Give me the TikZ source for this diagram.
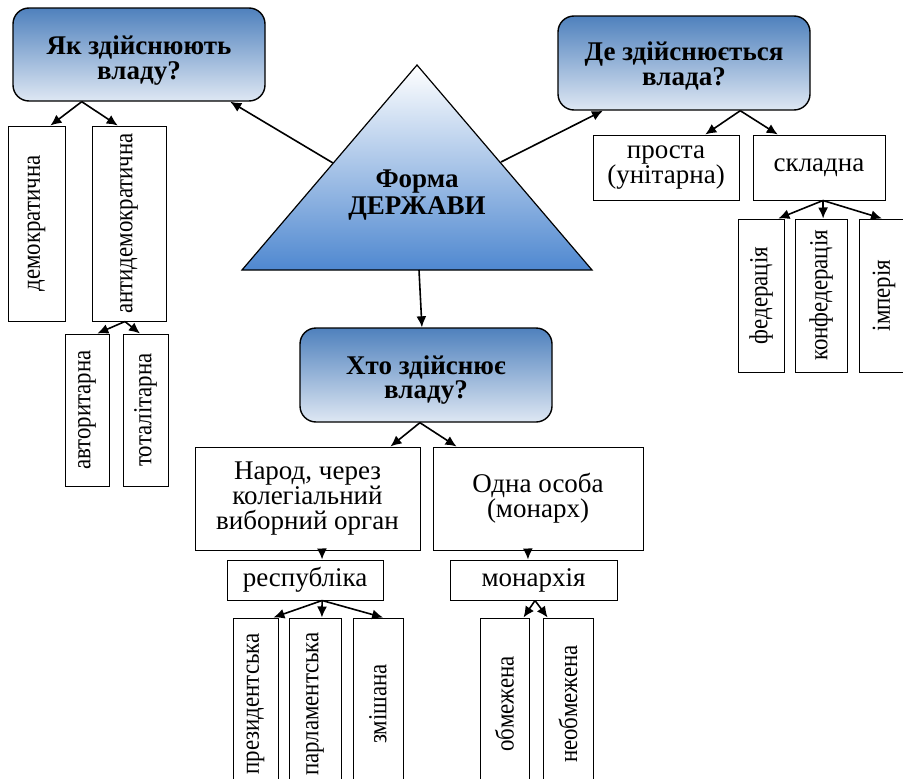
\documentclass[tikz,border=0pt]{standalone}
\usepackage{fontspec}
\setmainfont{Liberation Serif}
\newfontfamily\narrowserif[FakeStretch=0.88]{Liberation Serif}
\usetikzlibrary{arrows.meta,calc}
\definecolor{bluetop}{RGB}{79,129,189}
\definecolor{bluebot}{RGB}{222,231,243}
\definecolor{tribot}{RGB}{79,136,208}
\begin{document}
\begin{tikzpicture}[x=1pt,y=-1pt,
  qbox/.style={draw, line width=1.4pt, rounded corners=16pt, top color=bluetop, bottom color=bluebot,
    font=\fontsize{27}{25}\selectfont\bfseries, align=center, inner sep=0pt},
  wbox/.style={draw, line width=1pt, fill=white, font=\fontsize{27}{25}\selectfont, align=center, inner sep=0pt},
  vbox/.style={draw, line width=1pt, fill=white, rotate=90, font=\narrowserif\fontsize{26}{26}\selectfont, inner sep=0pt},
  arr/.style={-{Latex[length=11pt,width=10pt]}, line width=1.6pt}]
\useasboundingbox (0,0) rectangle (903,779);
\clip (0,0) rectangle (903,779);
\fill[white] (0,0) rectangle (903,779);

% top-left question
\node[qbox, minimum width=252pt, minimum height=93pt] (yak) at (139,54.5) {\raisebox{-6pt}[\height][\depth]{\shortstack{Як здійснюють\\[-1pt]владу?}}};
% top-right question
\node[qbox, minimum width=252pt, minimum height=94pt] (de) at (684,63) {\raisebox{-3pt}[\height][\depth]{\shortstack{Де здійснюється\\[-1pt]влада?}}};
% centre question
\node[qbox, minimum width=252pt, minimum height=94pt] (kto) at (426,375) {\raisebox{-5pt}[\height][\depth]{\shortstack{Хто здійснює\\[-1pt]владу?}}};

% triangle
\coordinate (tA) at (417,65);
\coordinate (tB) at (242,270);
\coordinate (tC) at (592,270);
\path[draw, line width=1.2pt, top color=white, bottom color=tribot] (tA) -- (tB) -- (tC) -- cycle;
\node[font=\fontsize{27}{27}\selectfont\bfseries, align=center] (forma) at (417,195) {Форма\\ДЕРЖАВИ};
\coordinate (tL) at (333,163);
\coordinate (tR) at (501,162);
\coordinate (tD) at (419,270);

\draw[arr] (tL) -- ($(yak.south west)!0.86!(yak.south east)$);
\draw[arr] (tR) -- ($(de.south west)!0.18!(de.south east)$);
\draw[arr] (tD) -- ($(kto.north west)!0.484!(kto.north east)$);

% left branch
\node[vbox, minimum width=195pt, minimum height=57pt] (dem) at (36.5,223.5) {демократична};
\node[vbox, minimum width=195pt, minimum height=74pt] (anti) at (129,223.5) {антидемократична};
\node[vbox, minimum width=152pt, minimum height=44pt] (avt) at (87,410) {авторитарна};
\node[vbox, minimum width=152pt, minimum height=45pt] (tot) at (145.5,410) {тоталітарна};
\coordinate (yakO) at ($(yak.south west)!0.274!(yak.south east)$);
\coordinate (antiO) at ($(anti.north west)!0.446!(anti.south west)$);
\draw[arr] (yakO) -- ($(dem.north east)!0.74!(dem.south east)$);
\draw[arr] (yakO) -- ($(anti.north east)!0.35!(anti.south east)$);
\draw[arr] (antiO) -- ($(avt.north east)!0.73!(avt.south east)$);
\draw[arr] (antiO) -- ($(tot.north east)!0.38!(tot.south east)$);

% right branch
\node[wbox, minimum width=146pt, minimum height=65pt] (prosta) at (666,167.5) {проста\\(унітарна)};
\node[wbox, minimum width=132pt, minimum height=65pt] (skl) at (819,167.5) {складна};
\coordinate (deO) at ($(de.south west)!0.722!(de.south east)$);
\draw[arr] (deO) -- ($(prosta.north west)!0.767!(prosta.north east)$);
\draw[arr] (deO) -- ($(skl.north west)!0.19!(skl.north east)$);
\node[vbox, minimum width=153pt, minimum height=46pt] (fed) at (761,295.5) {федерація};
\node[vbox, minimum width=153pt, minimum height=52pt] (konf) at (821,295.5) {конфедерація};
\node[vbox, minimum width=153pt, minimum height=50pt] (imp) at (884,295.5) {імперія};
\coordinate (sklO) at ($(skl.south west)!0.53!(skl.south east)$);
\draw[arr] (sklO) -- ($(fed.north east)!0.87!(fed.south east)$);
\draw[arr] (sklO) -- ($(konf.north east)!0.54!(konf.south east)$);
\draw[arr] (sklO) -- ($(imp.north east)!0.46!(imp.south east)$);

% centre branch
\node[wbox, minimum width=225pt, minimum height=103pt] (narod) at (307.5,498.5) {Народ, через\\колегіальний\\виборний орган};
\node[wbox, minimum width=210pt, minimum height=103pt] (odna) at (538,498.5) {Одна особа\\(монарх)};
\coordinate (ktoO) at ($(kto.south west)!0.476!(kto.south east)$);
\draw[arr] (ktoO) -- ($(narod.north west)!0.867!(narod.north east)$);
\draw[arr] (ktoO) -- ($(odna.north west)!0.114!(odna.north east)$);
\node[wbox, minimum width=156pt, minimum height=40pt] (resp) at (305,580) {республіка};
\node[wbox, minimum width=167pt, minimum height=40pt] (mon) at (533.5,580) {монархія};
\draw[arr] ($(narod.south west)!0.564!(narod.south east)$) -- ($(resp.north west)!0.609!(resp.north east)$);
\draw[arr] ($(odna.south west)!0.452!(odna.south east)$) -- ($(mon.north west)!0.467!(mon.north east)$);

\node[vbox, minimum width=172pt, minimum height=45pt] (prez) at (255.5,704) {президентська};
\node[vbox, minimum width=172pt, minimum height=52pt] (parl) at (315,704) {парламентська};
\node[vbox, minimum width=172pt, minimum height=50pt] (zmish) at (378,704) {змішана};
\node[vbox, minimum width=172pt, minimum height=49pt] (obm) at (504.5,704) {обмежена};
\node[vbox, minimum width=172pt, minimum height=50pt] (neob) at (568,704) {необмежена};
\coordinate (respO) at ($(resp.south west)!0.609!(resp.south east)$);
\coordinate (monO) at ($(mon.south west)!0.509!(mon.south east)$);
\draw[arr] (respO) -- ($(prez.north east)!0.89!(prez.south east)$);
\draw[arr] (respO) -- ($(parl.north east)!0.63!(parl.south east)$);
\draw[arr] (respO) -- ($(zmish.north east)!0.6!(zmish.south east)$);
\draw[arr] (monO) -- ($(obm.north east)!0.88!(obm.south east)$);
\draw[arr] (monO) -- ($(neob.north east)!0.1!(neob.south east)$);
\end{tikzpicture}
\end{document}
